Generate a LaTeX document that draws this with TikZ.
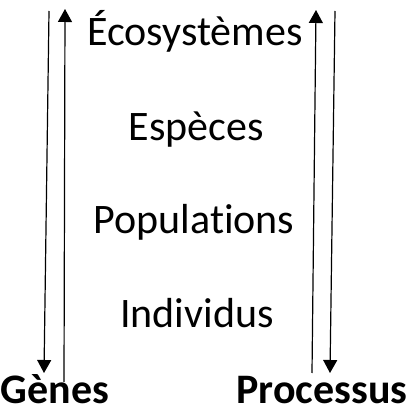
\documentclass[tikz,border=0pt]{standalone}
\usepackage{fontspec}
\setmainfont[Ligatures={NoCommon}]{Carlito}
\usetikzlibrary{arrows.meta}
\begin{document}
\begin{tikzpicture}[x=1pt,y=-1pt,
  lvl/.style={anchor=base,inner sep=0pt,font=\fontsize{42}{48}\selectfont},
  endlbl/.style={anchor=base,inner sep=0pt,font=\fontsize{42}{48}\selectfont\bfseries},
  conn/.style={line width=1.2pt,-{Triangle[length=13pt,width=14pt]}}]
\useasboundingbox (0,0) rectangle (416,414);
\node[lvl] (eco) at (195,46) {Écosystèmes};
\node[lvl] (esp) at (196,141) {Espèces};
\node[lvl] (pop) at (194,234) {Populations};
\node[lvl] (ind) at (197,328) {Individus};
\node[endlbl] (genes) at (55,404) {Gènes};
\node[endlbl] (proc) at (322,404) {Processus};
\coordinate (l1a) at (49,11);
\coordinate (l1b) at (44,373);
\coordinate (l2a) at (64,382);
\coordinate (l2b) at (65,9);
\coordinate (r1a) at (312,373);
\coordinate (r1b) at (316,10);
\coordinate (r2a) at (335,11);
\coordinate (r2b) at (330,373);
\draw[conn] (l1a) -- (l1b);
\draw[conn] (l2a) -- (l2b);
\draw[conn] (r1a) -- (r1b);
\draw[conn] (r2a) -- (r2b);
\end{tikzpicture}
\end{document}
